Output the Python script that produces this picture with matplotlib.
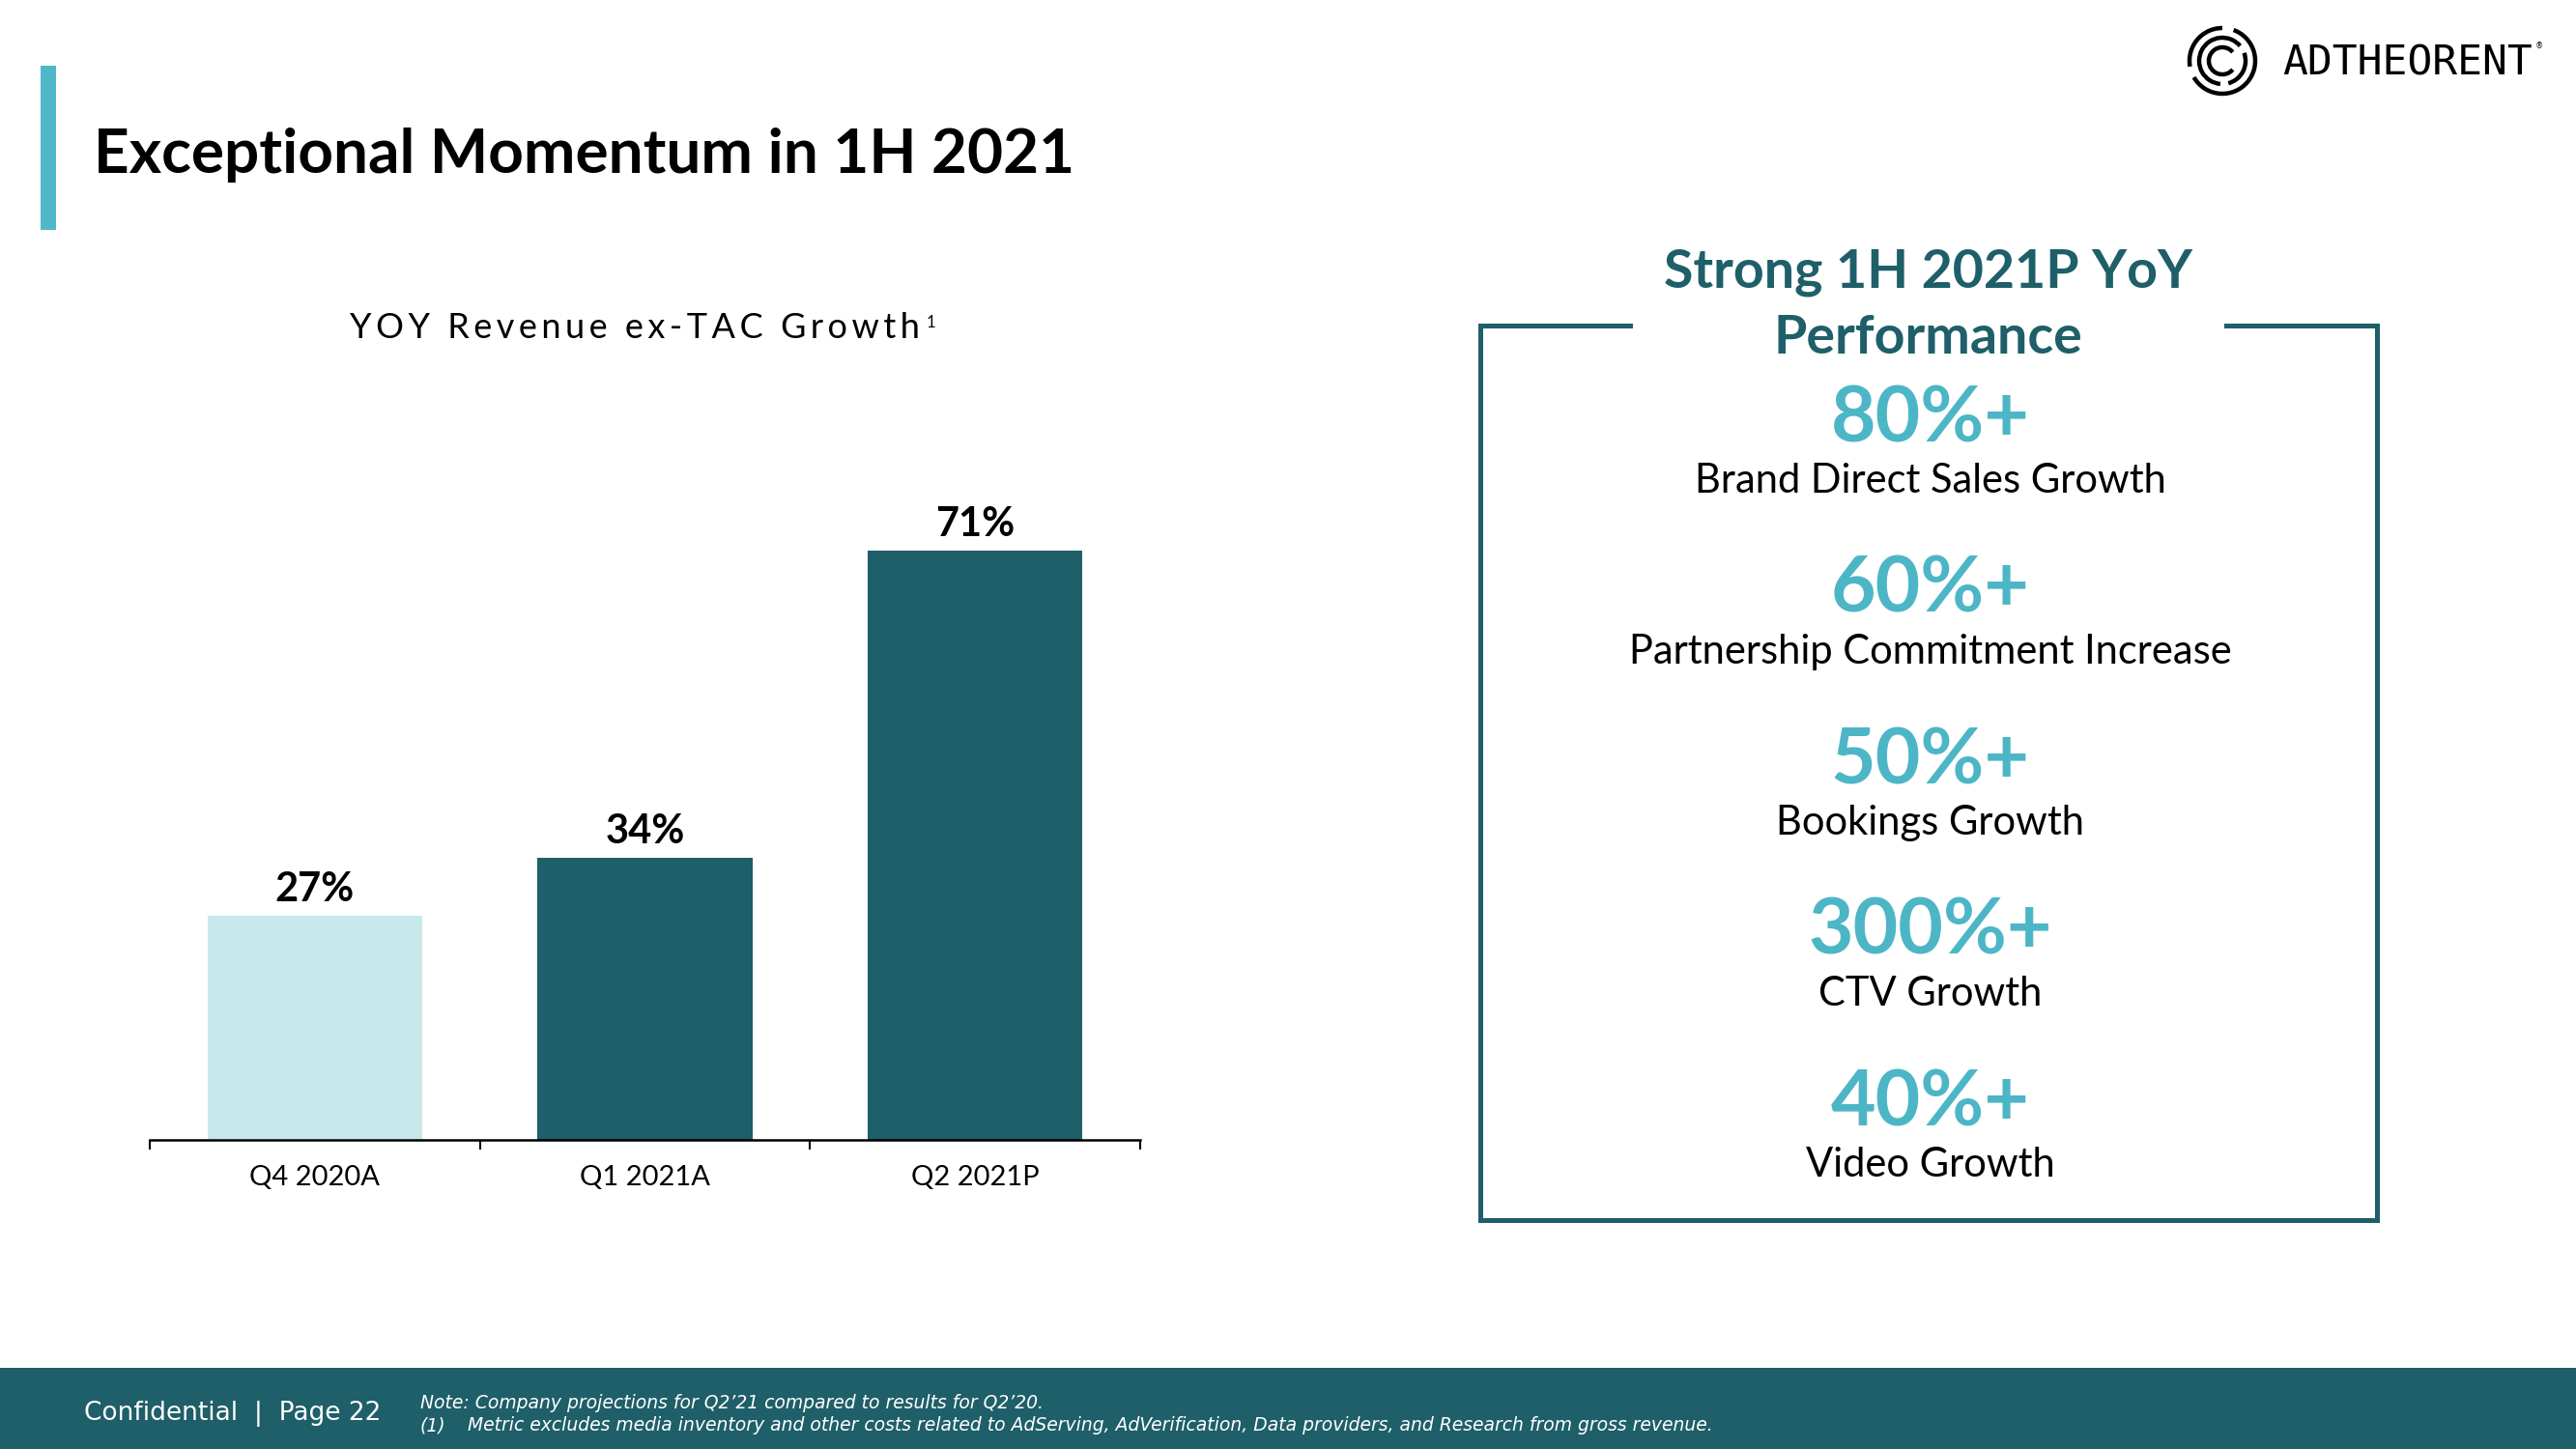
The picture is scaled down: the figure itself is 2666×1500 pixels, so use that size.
import matplotlib
matplotlib.use('Agg')
import matplotlib.pyplot as plt
from matplotlib.patches import Rectangle, Arc

# data
categories = ['Q4 2020A', 'Q1 2021A', 'Q2 2021P']
growth = [27, 34, 71]
bar_colors = ['#c9e8eb', '#1e5f69', '#1e5f69']

metrics = ['80%+', '60%+', '50%+', '300%+', '40%+']
metric_labels = ['Brand Direct Sales Growth', 'Partnership Commitment Increase',
                 'Bookings Growth', 'CTV Growth', 'Video Growth']

title = 'Exceptional Momentum in 1H 2021'
chart_title = 'YOY Revenue ex-TAC Growth'
box_title = ['Strong 1H 2021P YoY', 'Performance']
footer_left = 'Confidential  |  Page 22'
note_1 = 'Note: Company projections for Q2\u201921 compared to results for Q2\u201920.'
note_2 = 'Metric excludes media inventory and other costs related to AdServing, AdVerification, Data providers, and Research from gross revenue.'

DARK = '#1e5f69'
TEAL = '#4db6c6'
W, H = 2666, 1500
BOLD = ['Lato', 'DejaVu Sans']
BODY = ['Lato', 'DejaVu Sans']

fig = plt.figure(figsize=(W / 100, H / 100), dpi=100)
fig.patch.set_facecolor('white')

# pixel-space overlay for slide decorations
bg = fig.add_axes([0, 0, 1, 1])
bg.set_xlim(0, W)
bg.set_ylim(H, 0)
bg.axis('off')

bg.add_patch(Rectangle((42, 68), 16, 170, color='#4fb8c8', lw=0))
bg.text(97, 179, title, family=BOLD, fontweight='bold', fontsize=46, va='baseline', ha='left', color='black')

# footer band
bg.add_patch(Rectangle((0, 1416), W, 84, color=DARK, lw=0))
bg.text(87, 1470, footer_left, family='DejaVu Sans', fontsize=19, color='white', va='baseline')
bg.text(435, 1458, note_1, family='DejaVu Sans', style='italic', fontsize=13.5, color='white', va='baseline')
bg.text(435, 1481, '(1)', family='DejaVu Sans', style='italic', fontsize=13.5, color='white', va='baseline')
bg.text(484, 1481, note_2, family='DejaVu Sans', style='italic', fontsize=13.5, color='white', va='baseline')

# logo
cx, cy = 2300, 63
for r, spans in [(34, [(-70, 150), (170, 270)]), (24, [(95, 320), (340, 75)]), (14, [(40, 320)])]:
    for t1, t2 in spans:
        bg.add_patch(Arc((cx, cy), 2 * r, 2 * r, theta1=t1, theta2=t2, lw=3.2, color='black'))
bg.text(2362, 65, 'ADTHEORENT', family='DejaVu Sans Mono', fontsize=31, color='black',
        ha='left', va='center')
bg.text(2624, 48, '\u00ae', fontsize=6, color='black', ha='left', va='center')

# right box
bg.plot([1687, 1532, 1532, 2460, 2460, 2304], [337, 337, 1263, 1263, 337, 337],
        color=DARK, lw=3.6, solid_joinstyle='miter')
for i, line in enumerate(box_title):
    bg.text(1995, 282 + 68 * i, line, family=BOLD, fontweight='bold', fontsize=40, color=DARK,
            ha='center', va='center')
for i, (m, lab) in enumerate(zip(metrics, metric_labels)):
    bg.text(1998, 434 + 177 * i, m, family=BOLD, fontweight='bold', fontsize=58, color=TEAL,
            ha='center', va='center')
    bg.text(1998, 498 + 177 * i, lab, family=BODY, fontsize=30, color='black',
            ha='center', va='center')

# bar chart
ax = fig.add_axes([155 / W, 1 - 1180 / H, 1025 / W, 780 / H])
ax.patch.set_alpha(0)
x = list(range(len(categories)))
bars = ax.bar(x, growth, width=0.65, color=bar_colors)
ax.set_xlim(-0.5, len(categories) - 0.5)
ax.set_ylim(0, 780 * max(growth) / 610)
for b, v in zip(bars, growth):
    ax.annotate('{}%'.format(v), (b.get_x() + b.get_width() / 2, v), xytext=(0, 11),
                textcoords='offset points', ha='center', va='baseline',
                family=BOLD, fontweight='bold', fontsize=30)
for s in ['top', 'left', 'right']:
    ax.spines[s].set_visible(False)
ax.spines['bottom'].set_linewidth(1.8)
ax.set_yticks([])
ax.set_xticks(x)
ax.set_xticklabels(categories, family=BODY, fontsize=21)
ax.tick_params(axis='x', which='major', length=0, pad=19)
ax.set_xticks([i - 0.5 for i in range(len(categories) + 1)], minor=True)
ax.tick_params(axis='x', which='minor', length=7, width=1.5, direction='out')

sub = bg.text(362, 350, '\u2009'.join(chart_title), family=BODY, fontsize=26, color='black',
              ha='left', va='baseline')
bg.annotate('1', xy=(1, 1), xycoords=sub, xytext=(5, -2), textcoords='offset points',
            family=BODY, fontsize=12, ha='left', va='top')

fig.savefig('out.png', dpi=100)
